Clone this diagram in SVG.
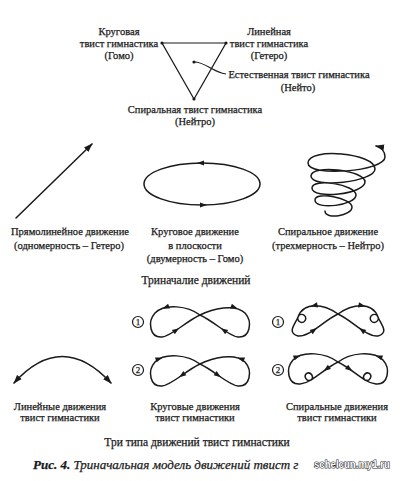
<svg xmlns="http://www.w3.org/2000/svg" xmlns:xlink="http://www.w3.org/1999/xlink" width="400" height="481" viewBox="0 0 400 481">
<style>
  text { font-family: "Liberation Serif", "Times New Roman", serif; fill: #1a1a1a; stroke: #1a1a1a; stroke-width: 0.25; }
  .t { font-size: 10.5px; text-anchor: middle; }
  .h { font-size: 11.5px; text-anchor: middle; }
  .cap { font-size: 13px; font-style: italic; }
  .wm { font-family: "Liberation Sans", Arial, sans-serif; font-weight: bold; font-size: 10.5px; fill: #ffffff; stroke: #1a1a1a; stroke-width: 1.1; paint-order: stroke; }
  .ln { fill: none; stroke: #1a1a1a; stroke-width: 1.5; stroke-linecap: round; stroke-linejoin: round; }
  .thin { fill: none; stroke: #1a1a1a; stroke-width: 1.2; }
  .num { font-size: 9px; text-anchor: middle; }
</style>
<defs>
  <marker id="arr" viewBox="0 0 10 7" refX="9" refY="3.5" markerUnits="userSpaceOnUse" markerWidth="9" markerHeight="6.5" orient="auto-start-reverse">
    <path d="M0,0 L10,3.5 L0,7 Z" fill="#1a1a1a"/>
  </marker>
  <path id="ah" d="M0,0 L-7,-2.6 L-7,2.6 Z" fill="#1a1a1a"/>
  <path id="fig1" d="M200,315 C188,306 165,303 155,313 C147,322 150,338 162,337 C172,336 185,322 200,315 C212,309 235,303 245,313 C253,322 250,338 238,337 C228,336 215,322 200,315"/>
</defs>

<!-- Triangle model -->
<g id="triangle">
  <path class="thin" d="M162,43 L226,43 L194,99 Z"/>
  <circle cx="162" cy="43" r="1.6" fill="#1a1a1a"/>
  <circle cx="226" cy="43" r="1.6" fill="#1a1a1a"/>
  <circle cx="194" cy="99" r="1.6" fill="#1a1a1a"/>
  <circle cx="194" cy="62" r="1.6" fill="#1a1a1a"/>
</g>
<g id="label-krug">
  <text class="t" x="119" y="35">Круговая</text>
  <text class="t" x="119" y="47">твист гимнастика</text>
  <text class="t" x="119" y="59">(Гомо)</text>
</g>
<g id="label-lin">
  <text class="t" x="269" y="35">Линейная</text>
  <text class="t" x="269" y="47">твист гимнастика</text>
  <text class="t" x="269" y="59">(Гетеро)</text>
</g>
<g id="label-est">
  <text class="t" x="299" y="77.5">Естественная твист гимнастика</text>
  <text class="t" x="298" y="91">(Нейто)</text>
</g>
<g id="label-spir">
  <text class="t" x="195" y="113">Спиральная твист гимнастика</text>
  <text class="t" x="195" y="125">(Нейтро)</text>
</g>

<!-- Three motions -->
<g id="straight">
  <text class="t" x="70" y="235">Прямолинейное движение</text>
  <text class="t" x="69" y="248.5">(одномерность – Гетеро)</text>
</g>
<g id="circular">
  <ellipse class="ln" cx="202" cy="184" rx="58" ry="21"/>
  <use href="#ah" xlink:href="#ah" transform="translate(197,163) rotate(180)"/>
  <use href="#ah" xlink:href="#ah" transform="translate(207,205)"/>
  <text class="t" x="195" y="235">Круговое движение</text>
  <text class="t" x="195" y="248.5">в плоскости</text>
  <text class="t" x="195" y="262">(двумерность – Гомо)</text>
</g>
<g id="spiral">
  <path class="ln" d="M325,211 C325,220 352,216 352,207 C352,198 315,191 315,200 C315,210.5 356,205.5 356,195 C356,184.5 312,177.5 312,188 C312,200 365,194 365,182 C365,170 311,164 311,176 C311,189 375,182 375,169 C375,153 308,147 308,163 C308,177.5 385,171.5 385,157 C385,151 381,147 376,146" marker-end="url(#arr)"/>
  <text class="t" x="328" y="235">Спиральное движение</text>
  <text class="t" x="328" y="248.5">(трехмерность – Нейтро)</text>
</g>
<text class="h" x="196" y="284">Триначалие движений</text>

<!-- Types of twist gymnastics -->
<g id="linear-moves">
  <text class="t" x="60" y="410">Линейные движения</text>
  <text class="t" x="60" y="421">твист гимнастики</text>
</g>
<g id="circ1">
  <circle class="thin" cx="138" cy="322" r="5.5" stroke-width="1"/>
  <text class="num" x="138" y="325.2">1</text>
  <use href="#fig1" xlink:href="#fig1" class="ln"/>
  <use href="#ah" xlink:href="#ah" transform="translate(162.4,308.5) rotate(160)"/>
  <use href="#ah" xlink:href="#ah" transform="translate(179.1,328.2) rotate(-35)"/>
  <use href="#ah" xlink:href="#ah" transform="translate(237.6,308.5) rotate(20)"/>
  <use href="#ah" xlink:href="#ah" transform="translate(220.9,328.2) rotate(215)"/>
</g>
<g id="circ2">
  <circle class="thin" cx="138" cy="370" r="5.5" stroke-width="1"/>
  <text class="num" x="138" y="373.2">2</text>
  <use href="#fig1" xlink:href="#fig1" class="ln" transform="translate(0,49)"/>
  <use href="#ah" xlink:href="#ah" transform="translate(162.4,357.5) rotate(-20)"/>
  <use href="#ah" xlink:href="#ah" transform="translate(179.1,377.2) rotate(145)"/>
  <use href="#ah" xlink:href="#ah" transform="translate(237.6,357.5) rotate(200)"/>
  <use href="#ah" xlink:href="#ah" transform="translate(220.9,377.2) rotate(35)"/>
  <text class="t" x="195" y="410">Круговые движения</text>
  <text class="t" x="195" y="421">твист гимнастики</text>
</g>
<g id="spir1">
  <circle class="thin" cx="278" cy="322" r="5.5" stroke-width="1"/>
  <text class="num" x="278" y="325.2">1</text>
  <g transform="translate(138,-1)">
    <path class="ln" d="M200,315 C186,305 166,302 160,318 A4,4 0 0,0 167.5,320.8 A4,4 0 0,0 160,318 C158,324 148,334 160,337 C172,338 185,322 200,315 C214,305 234,302 240,318 A4,4 0 0,1 232.5,320.8 A4,4 0 0,1 240,318 C242,324 252,334 240,337 C228,338 215,322 200,315"/>
    <use href="#ah" xlink:href="#ah" transform="translate(172.6,307.2) rotate(169)"/>
    <use href="#ah" xlink:href="#ah" transform="translate(178.9,329) rotate(-36)"/>
    <use href="#ah" xlink:href="#ah" transform="translate(227.4,307.2) rotate(11)"/>
    <use href="#ah" xlink:href="#ah" transform="translate(221.1,329) rotate(216)"/>
  </g>
</g>
<g id="spir2">
  <circle class="thin" cx="278" cy="370" r="5.5" stroke-width="1"/>
  <text class="num" x="278" y="373.2">2</text>
  <g transform="translate(138,-2)">
    <path class="ln" d="M200,364 C188,355 165,352 155,362 C147,371 150,387 162,386 C166,385.5 170,384 173,382 A4,4 0 0,0 168.6,375.4 A4,4 0 0,0 173,382 C181,377 190,369 200,364 C212,355 235,352 245,362 C253,371 250,387 238,386 C234,385.5 230,384 227,382 A4,4 0 0,1 231.4,375.4 A4,4 0 0,1 227,382 C219,377 210,369 200,364"/>
    <use href="#ah" xlink:href="#ah" transform="translate(162.4,357.5) rotate(-20)"/>
    <use href="#ah" xlink:href="#ah" transform="translate(185.7,373) rotate(144)"/>
    <use href="#ah" xlink:href="#ah" transform="translate(237.6,357.5) rotate(200)"/>
    <use href="#ah" xlink:href="#ah" transform="translate(214.3,373) rotate(36)"/>
  </g>
  <text class="t" x="337" y="410">Спиральные движения</text>
  <text class="t" x="337" y="421">твист гимнастики</text>
</g>
<text class="h" x="197" y="445.5">Три типа движений твист гимнастики</text>

<!-- Connectors -->
<g id="connectors">
  <path class="thin" d="M194,62 C206,62 212,72 226,74"/>
  <line class="ln" x1="16" y1="218" x2="92" y2="144" marker-end="url(#arr)"/>
  <path class="ln" d="M14,383 Q62,330 111,383" marker-start="url(#arr)" marker-end="url(#arr)"/>
</g>

<!-- Caption -->
<text class="cap" x="33" y="468.5"><tspan font-weight="bold">Рис. 4.</tspan> Триначальная модель движений твист г</text>
<text class="wm" x="314" y="468" textLength="76" lengthAdjust="spacingAndGlyphs">schelcun.my1.ru</text>
</svg>
